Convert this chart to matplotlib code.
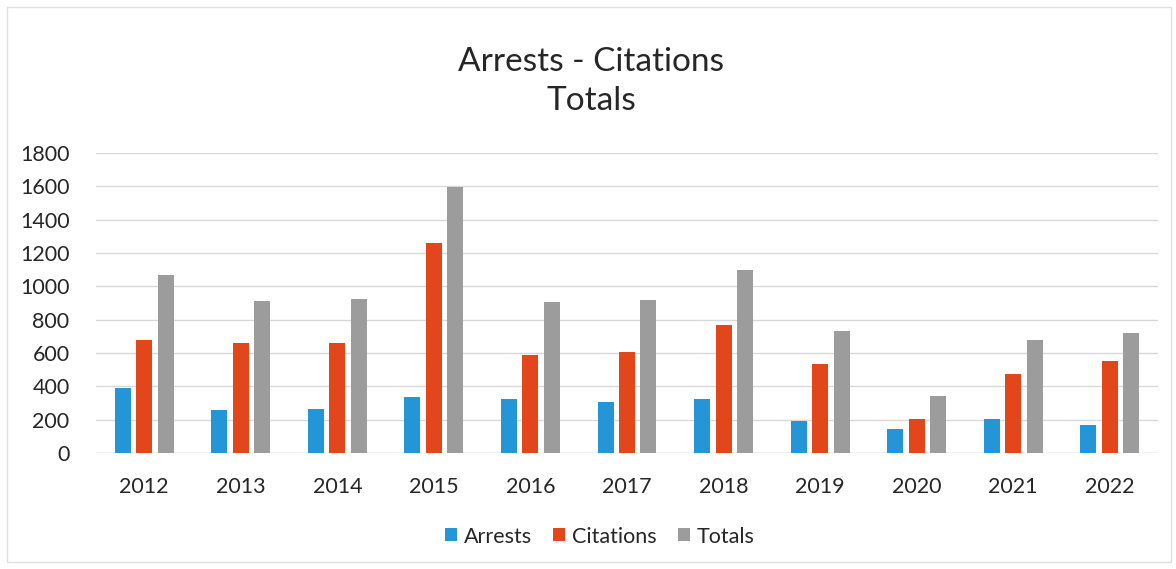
import matplotlib.pyplot as plt
import matplotlib.patches as patches
import numpy as np

plt.rcParams['font.family'] = ['Lato', 'DejaVu Sans']

#Data
years = ['2012', '2013', '2014', '2015', '2016', '2017', '2018', '2019', '2020', '2021', '2022']
arrests = [390, 256, 266, 336, 326, 308, 326, 192, 142, 202, 170]
citations = [678, 658, 662, 1262, 586, 606, 770, 536, 202, 472, 550]
totals = [1066, 912, 922, 1596, 906, 916, 1096, 730, 342, 676, 720]

#Plot setup
fig = plt.figure(figsize=(11.76, 5.69), dpi=100)
ax = fig.add_axes([0.0816, 0.2039, 0.9031, 0.5271])

x = np.arange(len(years))
bar_w = 0.166
step = 0.222

ax.bar(x - step, arrests, bar_w, color='#2496d8', label='Arrests', zorder=3)
ax.bar(x, citations, bar_w, color='#e2461a', label='Citations', zorder=3)
ax.bar(x + step, totals, bar_w, color='#9c9c9c', label='Totals', zorder=3)

ax.set_xlim(-0.5, len(years) - 0.5)
ax.set_ylim(0, 1800)
ax.set_yticks(range(0, 1801, 200))
ax.set_xticks(x)
ax.set_xticklabels(years)
ax.grid(axis='y', color='#d9d9d9', linewidth=1, zorder=0)
ax.tick_params(axis='both', length=0, labelsize=15.5, colors='#262626')
ax.tick_params(axis='x', pad=17)
ax.tick_params(axis='y', pad=19)
for s in ax.spines.values():
    s.set_visible(False)
ax.axhline(0, color='#d9d9d9', linewidth=1, zorder=2)

#Title
fig.text(0.5025, 0.857, 'Arrests - Citations\nTotals', ha='center', va='center',
         fontsize=24, color='#262626', linespacing=1.4)

#Legend
fig.legend(loc='center', bbox_to_anchor=(0.51, 0.057), ncol=3, frameon=False,
           fontsize=15.5, handlelength=0.55, handleheight=0.55, handletextpad=0.3,
           columnspacing=1.0, labelcolor='#262626')

#Chart frame
fig.patches.append(patches.Rectangle((0.006, 0.012), 0.99, 0.975, transform=fig.transFigure,
                                     fill=False, edgecolor='#e0e0e0', linewidth=1))

plt.savefig('out.png', dpi=100)
